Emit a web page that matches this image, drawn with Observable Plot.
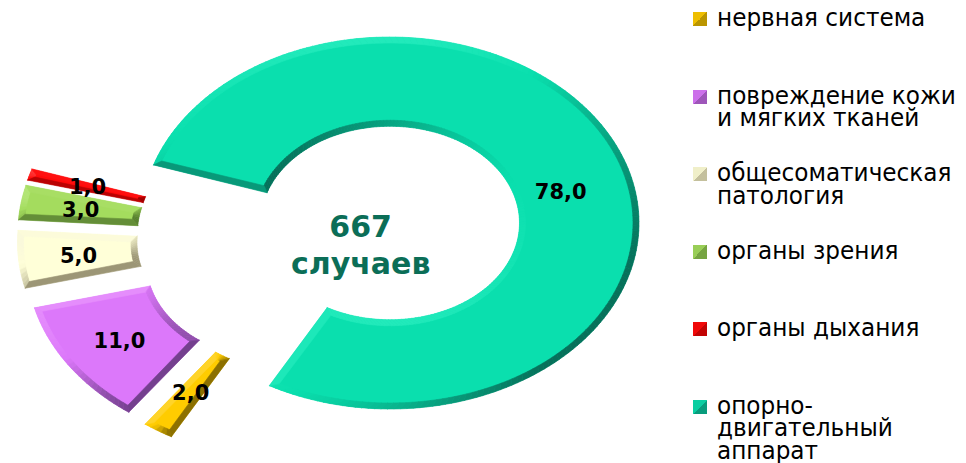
<!DOCTYPE html>
<html>
<head>
<meta charset="utf-8">
<script src="https://cdn.jsdelivr.net/npm/d3@7"></script>
<script src="https://cdn.jsdelivr.net/npm/@observablehq/plot@0.6"></script>
<style>
  html, body { margin: 0; padding: 0; background: #fff; }
  #wrap { position: relative; width: 966px; height: 463px; overflow: hidden; }
  #chart { position: absolute; left: 0; top: 0; }
  #legend { position: absolute; left: 693px; top: 0; }
  .item { position: absolute; left: 0; width: 272px; }
  .mk { position: absolute; left: 0; width: 14px; height: 14px; }
  .tx { position: absolute; left: 24px; top: 0; font-family: "DejaVu Sans", sans-serif; font-size: 24px;
        line-height: 22.5px; color: #000; white-space: pre; transform: scaleX(0.965); transform-origin: 0 0; }
  g[aria-label="slice labels"] text, g[aria-label="main label"] text { letter-spacing: 3px; }
  g[aria-label="center"] text { letter-spacing: 3px; }
</style>
</head>
<body>
<div id="wrap"><div id="chart"></div><div id="legend"></div></div>
<script>
// ---------- data ----------
const categories = [
  "нервная система",
  "повреждение кожи\nи мягких тканей",
  "общесоматическая\nпатология",
  "органы зрения",
  "органы дыхания",
  "опорно-\nдвигательный\nаппарат"
];
const values = [2.0, 11.0, 5.0, 3.0, 1.0, 78.0];
const centerText = ["667", "случаев"];

// ---------- styles ----------
const mainColors  = ["#ffcc00", "#dc78fa", "#ffffd8", "#a4dc5e", "#ff0a0a", "#0adfae"];
const darkColors  = ["#8c7000", "#74408e", "#9c9676", "#587f30", "#9a0000", "#07705a"];
const lightColors = ["#ffe060", "#f0a8ff", "#f4f2de", "#c4ee90", "#ff6a6a", "#3cf6ca"];

// ---------- layout constants ----------
const CX = 390, CY = 223, RX = 249, RY = 186;   // ellipse of the doughnut in px
const R_OUT = 1, R_IN = 0.52;
const START = 209 * Math.PI / 180;               // first slice angle (clockwise from 12 o'clock)
const BEVEL = 6;
const GROUP_X = -0.272, GROUP_Y = 0.085;         // common shift of the exploded group
const EXPLODE = 0.225;
const LABEL_R = 0.76;

const total = d3.sum(values);
const maxIdx = values.indexOf(d3.max(values));
let cum = 0;
const slices = values.map((v, i) => {
  const a0 = START + cum / total * 2 * Math.PI;
  cum += v;
  const a1 = START + cum / total * 2 * Math.PI;
  const mid = (a0 + a1) / 2;
  let ox = 0, oy = 0;
  if (i !== maxIdx) {
    ox = GROUP_X + EXPLODE * Math.sin(mid);
    oy = GROUP_Y - EXPLODE * Math.cos(mid);
  }
  return {i, v, a0, a1, mid, ox, oy};
});

const pxSpeed = (t, r) => r * Math.hypot(RX * Math.cos(t), RY * Math.sin(t));
const pxRad = t => Math.hypot(RX * Math.sin(t), RY * Math.cos(t));

const base = [], strips = [];
for (const s of slices) {
  const span = s.a1 - s.a0;
  const n = Math.max(2, Math.ceil(span / (Math.PI / 180 * 1.5)));
  const pt = (t, r) => ({x: s.ox + r * Math.sin(t), y: s.oy - r * Math.cos(t)});
  const daO = Math.min(BEVEL / pxSpeed(s.a0, R_OUT), 0.38 * span);
  const daI = Math.min(BEVEL / pxSpeed(s.a0, R_IN), 0.38 * span);
  const outer = [], inner = [], outerQ = [], innerQ = [];
  for (let k = 0; k <= n; k++) {
    const t = s.a0 + span * k / n;
    outer.push(pt(t, R_OUT));
    inner.push(pt(t, R_IN));
    const tqO = s.a0 + daO + (span - 2 * daO) * k / n;
    const tqI = s.a0 + daI + (span - 2 * daI) * k / n;
    outerQ.push(pt(tqO, R_OUT - BEVEL / pxRad(tqO)));
    innerQ.push(pt(tqI, R_IN + BEVEL / pxRad(tqI)));
    base.push({id: s.i, x1: outer[k].x, y1: outer[k].y, x2: inner[k].x, y2: inner[k].y, color: mainColors[s.i]});
  }
  const P = outer.concat(inner.slice().reverse());
  const Q = outerQ.concat(innerQ.slice().reverse());
  const M = P.length;
  for (let j = 0; j < M; j++) {
    const j2 = (j + 1) % M;
    const mpx = (P[j].x + P[j2].x) / 2, mpy = (P[j].y + P[j2].y) / 2;
    const mqx = (Q[j].x + Q[j2].x) / 2, mqy = (Q[j].y + Q[j2].y) / 2;
    let nx = (mpx - mqx) * RX, ny = (mpy - mqy) * RY;
    const len = Math.hypot(nx, ny) || 1; nx /= len; ny /= len;
    let sh = -0.6 * ny - 0.5 * nx - 0.3;
    sh = Math.max(-1, Math.min(1, sh));
    const color = sh < 0 ? d3.interpolateRgb(mainColors[s.i], darkColors[s.i])(-sh)
                         : d3.interpolateRgb(mainColors[s.i], lightColors[s.i])(sh);
    const id = s.i + "-" + j;
    strips.push({id, x1: P[j].x, y1: P[j].y, x2: Q[j].x, y2: Q[j].y, color});
    strips.push({id, x1: P[j2].x, y1: P[j2].y, x2: Q[j2].x, y2: Q[j2].y, color});
  }
}

const fmt = v => v.toFixed(1).replace(".", ",");
const labels = slices.map(s => ({
  x: s.ox + LABEL_R * Math.sin(s.mid),
  y: s.oy - LABEL_R * Math.cos(s.mid),
  text: fmt(s.v), main: s.i === maxIdx
}));

const chart = Plot.plot({
  width: 966, height: 463, margin: 0,
  x: {domain: [-1, 1], range: [CX - RX, CX + RX], axis: null},
  y: {domain: [-1, 1], range: [CY - RY, CY + RY], axis: null},
  color: {type: "identity"},
  style: {background: "transparent"},
  marks: [
    Plot.area(base, {x1: "x1", y1: "y1", x2: "x2", y2: "y2", z: "id", fill: "color", curve: "linear"}),
    Plot.area(strips, {x1: "x1", y1: "y1", x2: "x2", y2: "y2", z: "id", fill: "color", stroke: "color", strokeWidth: 0.6, curve: "linear"}),
    Plot.text(labels.filter(d => !d.main), {x: "x", y: "y", text: "text", fill: "#000", fontSize: 21,
      fontWeight: "bold", fontFamily: "DejaVu Sans", ariaLabel: "slice labels"}),
    Plot.text(labels.filter(d => d.main), {x: "x", y: "y", text: "text", fill: "#000", fontSize: 21, dy: 20, dx: -6,
      fontWeight: "bold", fontFamily: "DejaVu Sans", ariaLabel: "main label"}),
    Plot.text([centerText.join("\n")], {x: -0.12, y: 0.11, text: d => d, fill: "#0b6e57", fontSize: 30,
      lineHeight: 1.23, fontWeight: "bold", fontFamily: "DejaVu Sans", ariaLabel: "center"})
  ]
});
document.getElementById("chart").appendChild(chart);

// ---------- legend ----------
const legend = d3.select("#legend");
categories.forEach((c, i) => {
  const it = legend.append("div").attr("class", "item").style("top", (7 + i * 77.5) + "px");
  it.append("div").attr("class", "mk").style("top", "5px")
    .style("background", `linear-gradient(to bottom right, ${d3.interpolateRgb(mainColors[i], darkColors[i])(0.15)} 50%, ${d3.interpolateRgb(mainColors[i], darkColors[i])(0.6)} 50%)`);
  it.append("div").attr("class", "tx").text(c);
});
</script>
</body>
</html>
